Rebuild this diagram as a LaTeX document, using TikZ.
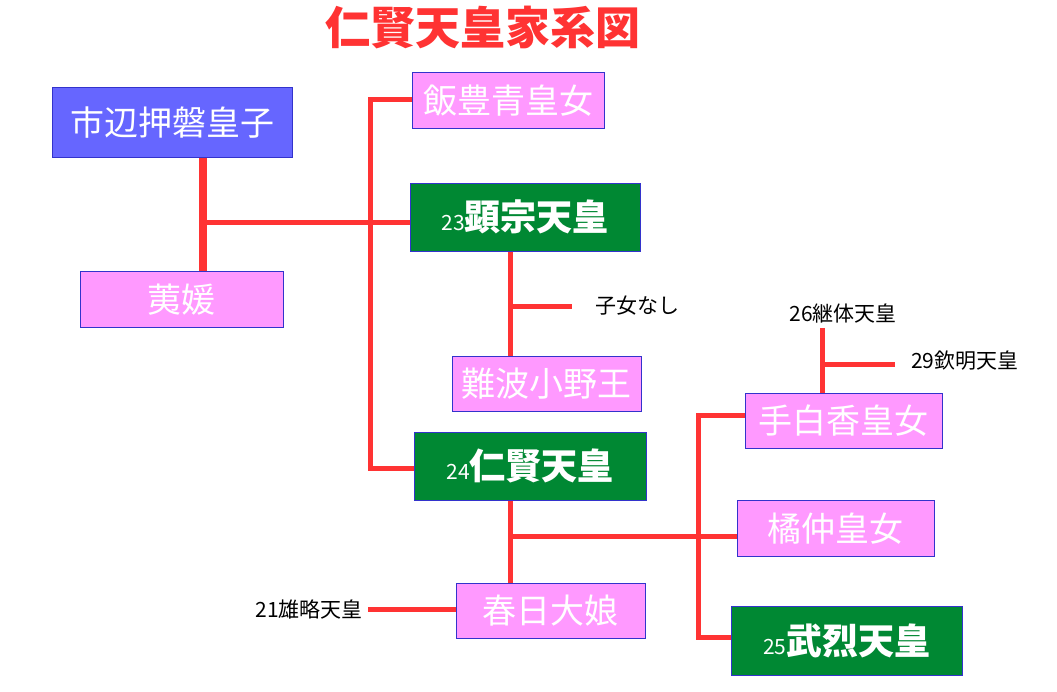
\documentclass[tikz,border=0pt]{standalone}
\usepackage{fontspec}
\setmainfont{Noto Sans CJK JP}
\begin{document}
\begin{tikzpicture}[x=1pt,y=-1pt,
  box/.style={draw=blue!60!gray,line width=0.6pt,minimum height=56pt,inner sep=0pt,text=white,font=\fontsize{34}{34}\selectfont,anchor=north west},
  pink/.style={box,fill={rgb,255:red,255;green,153;blue,255}},
  grn/.style={box,fill={rgb,255:red,0;green,136;blue,51},font=\fontsize{36}{36}\selectfont\bfseries},
  lbl/.style={font=\fontsize{21}{21}\selectfont,inner sep=0pt},
  ln/.style={draw={rgb,255:red,255;green,51;blue,51},line width=5pt}]
\useasboundingbox (0,0) rectangle (1057,692);
\node[text={rgb,255:red,255;green,51;blue,51},font=\fontsize{45}{45}\selectfont\bfseries] (t) at (483,28) {仁賢天皇家系図};
\node[box,fill={rgb,255:red,102;green,102;blue,255},minimum width=240pt,minimum height=70pt] (a) at (52,87) {市辺押磐皇子};
\node[pink,minimum width=203pt] (b) at (80,271) {荑媛};
\node[pink,minimum width=192pt] (c) at (412,72) {飯豊青皇女};
\node[grn,minimum width=230pt,minimum height=68pt] (d) at (410,183) {{\fontsize{21}{21}\selectfont\mdseries 23}顕宗天皇};
\node[pink,minimum width=189pt,minimum height=55pt] (e) at (452,356) {難波小野王};
\node[grn,minimum width=232pt,minimum height=68pt] (f) at (414,432) {{\fontsize{21}{21}\selectfont\mdseries 24}仁賢天皇};
\node[pink,minimum width=189pt,minimum height=55pt] (g) at (456,583) {春日大娘};
\node[pink,minimum width=197pt,minimum height=55pt] (h) at (745,393) {手白香皇女};
\node[pink,minimum width=197pt] (i) at (737,500) {橘仲皇女};
\node[grn,minimum width=231pt,minimum height=69pt] (j) at (731,606) {{\fontsize{21}{21}\selectfont\mdseries 25}武烈天皇};
\node[lbl,anchor=west] (k) at (595,306) {子女なし};
\node[lbl] (l) at (843,314) {26継体天皇};
\node[lbl,anchor=west] (m) at (911,361) {29欽明天皇};
\node[lbl,anchor=east] (n) at (363,609) {21雄略天皇};
\coordinate (p1) at (203,223);
\coordinate (p2) at (370,100);
\coordinate (p3) at (370,468);
\coordinate (p4) at (510,307);
\coordinate (p5) at (510,536);
\coordinate (p6) at (698,415);
\coordinate (p7) at (698,637);
\coordinate (p8) at (822,364);
\draw[ln,line width=8pt] (a.south -| p1) -- (b.north -| p1);
\draw[ln] (p1) -- (d.west |- p1);
\draw[ln] (c.west |- p2) -- (p2) -- (p3) -- (f.west |- p3);
\draw[ln] (d.south -| p4) -- (e.north -| p4);
\draw[ln] (p4) -- (572,307);
\draw[ln] (f.south -| p5) -- (g.north -| p5);
\draw[ln] (p5) -- (i.west |- p5);
\draw[ln] (h.west |- p6) -- (p6) -- (p7) -- (j.west |- p7);
\draw[ln] (n.east) ++(5,0) -- (g.west |- n);
\draw[ln] (822,328) -- (h.north -| p8);
\draw[ln] (p8) -- (895,364);
\end{tikzpicture}
\end{document}
